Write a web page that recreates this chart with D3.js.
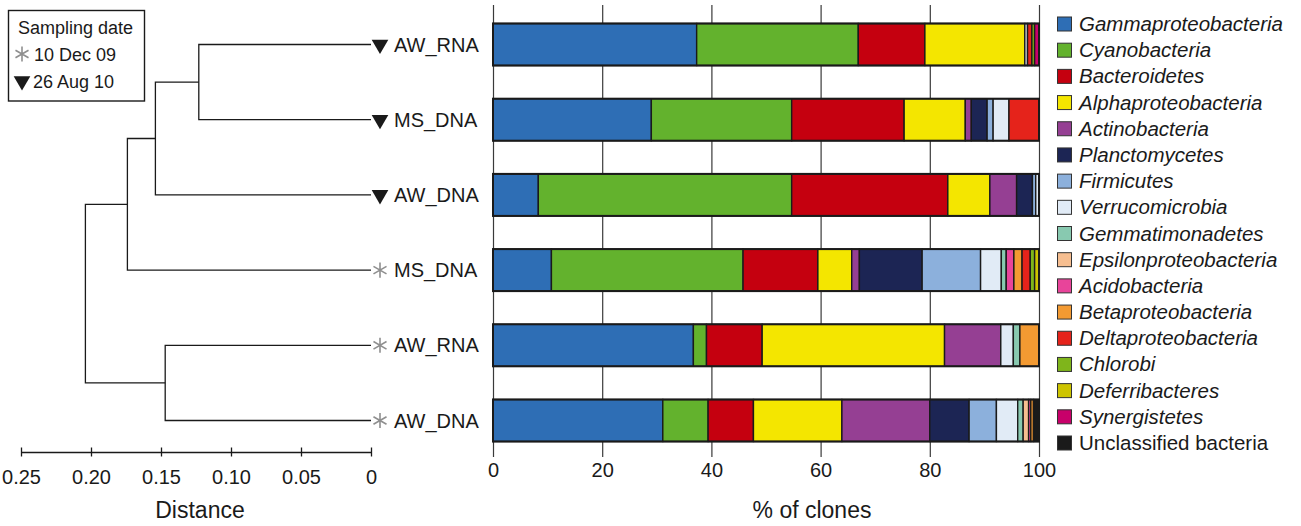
<!DOCTYPE html>
<html>
<head>
<meta charset="utf-8">
<script src="https://cdn.jsdelivr.net/npm/d3@7"></script>
<style>
  html, body { margin: 0; padding: 0; background: #fff; }
  svg { display: block; font-family: "Liberation Sans", Arial, Helvetica, sans-serif; }
</style>
</head>
<body>
<svg id="chart" width="1301" height="526"></svg>
<script>
// ---------------- DATA ----------------
const samples = ["AW_RNA", "MS_DNA", "AW_DNA", "MS_DNA", "AW_RNA", "AW_DNA"];
const sampleDate = ["aug", "aug", "aug", "dec", "dec", "dec"];
const dateLabels = ["10 Dec 09", "26 Aug 10"];

const taxa = ["Gammaproteobacteria", "Cyanobacteria", "Bacteroidetes", "Alphaproteobacteria",
  "Actinobacteria", "Planctomycetes", "Firmicutes", "Verrucomicrobia", "Gemmatimonadetes",
  "Epsilonproteobacteria", "Acidobacteria", "Betaproteobacteria", "Deltaproteobacteria",
  "Chlorobi", "Deferribacteres", "Synergistetes", "Unclassified bacteria"];
const taxaColors = ["#2e6eb5", "#63b22d", "#c5000f", "#f4e600", "#953f93", "#1c2554",
  "#8cb0dc", "#e1ebf6", "#88c9b0", "#f6be90", "#e8449a", "#f39a32", "#e5231b",
  "#7fb51b", "#cdc400", "#c8006a", "#1a1a1a"];

// % of clones per taxon, rows top to bottom
const gamma    = [37.3, 29.0,  8.3, 10.7, 36.7, 31.1];
const cyano    = [29.6, 25.7, 46.4, 35.1,  2.4,  8.3];
const bactero  = [12.2, 20.6, 28.6, 13.7, 10.2,  8.3];
const alpha    = [18.3, 11.2,  7.7,  6.2, 33.4, 16.2];
const actino   = [ 0.0,  1.1,  4.9,  1.4, 10.3, 16.1];
const plancto  = [ 0.0,  2.9,  2.9, 11.5,  0.0,  7.2];
const firmic   = [ 0.0,  1.1,  0.6, 10.7,  0.0,  5.0];
const verruco  = [ 0.5,  2.9,  0.6,  3.8,  2.3,  3.9];
const gemmati  = [ 0.0,  0.0,  0.0,  0.9,  1.2,  1.0];
const epsilon  = [ 0.0,  0.0,  0.0,  0.0,  0.0,  1.0];
const acido    = [ 0.0,  0.0,  0.0,  1.4,  0.0,  0.4];
const beta     = [ 0.0,  0.0,  0.0,  1.5,  3.5,  0.5];
const delta    = [ 0.8,  5.5,  0.0,  1.5,  0.0,  0.0];
const chlorobi = [ 0.5,  0.0,  0.0,  0.8,  0.0,  0.0];
const deferri  = [ 0.0,  0.0,  0.0,  0.8,  0.0,  0.0];
const synerg   = [ 0.8,  0.0,  0.0,  0.0,  0.0,  0.0];
const unclass  = [ 0.0,  0.0,  0.0,  0.0,  0.0,  1.0];
const seriesValues = [gamma, cyano, bactero, alpha, actino, plancto, firmic, verruco, gemmati,
  epsilon, acido, beta, delta, chlorobi, deferri, synerg, unclass];

const pctTicks = [0, 20, 40, 60, 80, 100];
const distTicks = [0.25, 0.20, 0.15, 0.10, 0.05, 0];
const distTickLabels = ["0.25", "0.20", "0.15", "0.10", "0.05", "0"];

// dendrogram merges (children: leaf index or merge id, h = distance)
const merges = [
  { id: "A", left: 0, right: 1, h: 0.123 },
  { id: "B", left: "A", right: 2, h: 0.154 },
  { id: "C", left: "B", right: 3, h: 0.174 },
  { id: "D", left: 4, right: 5, h: 0.147 },
  { id: "R", left: "C", right: "D", h: 0.204 }
];

// ---------------- CHART ----------------
const svg = d3.select("#chart");
const ink = "#1a1a1a";

const xBar = d3.scaleLinear().domain([0, 100]).range([493, 1039]);
const xDist = d3.scaleLinear().domain([0.25, 0]).range([21, 371]);
const yRow = d3.scalePoint().domain(d3.range(samples.length)).range([44.5, 420.5]);
const barH = 42;

// gridlines / bar axis
const gridTop = 5, gridBottom = 457;
const barAxis = d3.axisBottom(xBar).tickValues(pctTicks).tickFormat(d3.format("d"))
  .tickSizeInner(-(gridBottom - gridTop)).tickSizeOuter(0).tickPadding(6);
const gBarAxis = svg.append("g").attr("transform", `translate(0,${gridBottom})`).call(barAxis);
gBarAxis.select(".domain").remove();
gBarAxis.selectAll(".tick line").attr("stroke", "#3a3a3a").attr("stroke-width", 1.2);
gBarAxis.selectAll(".tick text").attr("font-size", 20).attr("fill", ink)
  .attr("font-family", '"Liberation Sans", Arial, sans-serif');

svg.append("text").attr("x", (xBar(0) + xBar(100)) / 2 + 46).attr("y", 518)
  .attr("text-anchor", "middle").attr("font-size", 23).attr("fill", ink).text("% of clones");

// stacked bars
const table = samples.map((s, i) => {
  const row = { idx: i };
  taxa.forEach((t, k) => row[t] = seriesValues[k][i]);
  return row;
});
const stacked = d3.stack().keys(taxa)(table);
const color = d3.scaleOrdinal().domain(taxa).range(taxaColors);

svg.append("g").selectAll("g").data(stacked).join("g")
  .attr("fill", d => color(d.key))
  .selectAll("rect").data(d => d.filter(p => p[1] - p[0] > 0)).join("rect")
  .attr("x", d => xBar(d[0]))
  .attr("width", d => xBar(d[1]) - xBar(d[0]))
  .attr("y", d => yRow(d.data.idx) - barH / 2)
  .attr("height", barH)
  .attr("stroke", ink).attr("stroke-width", 1.4);

// outer bar frame
svg.append("g").selectAll("rect").data(table).join("rect")
  .attr("x", xBar(0)).attr("width", xBar(100) - xBar(0))
  .attr("y", d => yRow(d.idx) - barH / 2).attr("height", barH)
  .attr("fill", "none").attr("stroke", ink).attr("stroke-width", 2);

// ---------------- DENDROGRAM ----------------
const nodes = {};
samples.forEach((s, i) => nodes[i] = { x: xDist(0), y: yRow(i) });
const gTree = svg.append("g").attr("fill", "none").attr("stroke", ink).attr("stroke-width", 1.3);
merges.forEach(m => {
  const a = nodes[m.left], b = nodes[m.right];
  const x = xDist(m.h);
  gTree.append("path").attr("d", `M${a.x},${a.y}H${x}V${b.y}H${b.x}`);
  nodes[m.id] = { x: x, y: (a.y + b.y) / 2 };
});

// leaf markers and labels
const tri = d3.symbol().type(d3.symbolTriangle).size(120);
const ast = d3.symbol().type(d3.symbolAsterisk).size(160);
samples.forEach((s, i) => {
  const y = yRow(i);
  if (sampleDate[i] === "aug") {
    svg.append("path").attr("d", tri()).attr("fill", ink)
      .attr("transform", `translate(380,${y}) rotate(180)`);
  } else {
    svg.append("path").attr("d", ast()).attr("fill", "none").attr("stroke", "#8f8f8f")
      .attr("stroke-width", 1.6).attr("transform", `translate(380,${y})`);
  }
  svg.append("text").attr("x", 394).attr("y", y + 7).attr("font-size", 20)
    .attr("fill", ink).text(s);
});

// distance axis
const distAxis = d3.axisBottom(xDist).tickValues(distTicks)
  .tickFormat((d, i) => distTickLabels[i]).tickSizeInner(4.5).tickSizeOuter(0).tickPadding(13);
const gDist = svg.append("g").attr("transform", "translate(0,452)").call(distAxis);
gDist.select(".domain").attr("stroke", ink).attr("stroke-width", 1.3);
gDist.selectAll(".tick line").attr("y1", -4.5).attr("stroke", ink).attr("stroke-width", 1.3);
gDist.selectAll(".tick text").attr("font-size", 20).attr("fill", ink)
  .attr("font-family", '"Liberation Sans", Arial, sans-serif');
svg.append("text").attr("x", 200).attr("y", 518).attr("text-anchor", "middle")
  .attr("font-size", 23).attr("fill", ink).text("Distance");

// sampling date legend
svg.append("rect").attr("x", 8.5).attr("y", 10.5).attr("width", 136).attr("height", 90.5)
  .attr("fill", "#fff").attr("stroke", ink).attr("stroke-width", 1.4);
svg.append("text").attr("x", 18).attr("y", 34).attr("font-size", 18).attr("fill", ink)
  .text("Sampling date");
svg.append("path").attr("d", ast()).attr("fill", "none").attr("stroke", "#8f8f8f")
  .attr("stroke-width", 1.6).attr("transform", "translate(22,54)");
svg.append("text").attr("x", 34).attr("y", 61).attr("font-size", 18).attr("fill", ink)
  .text(dateLabels[0]);
svg.append("path").attr("d", tri()).attr("fill", ink)
  .attr("transform", "translate(22,81) rotate(180)");
svg.append("text").attr("x", 33).attr("y", 88).attr("font-size", 18).attr("fill", ink)
  .text(dateLabels[1]);

// ---------------- TAXA LEGEND ----------------
const yLeg = d3.scalePoint().domain(taxa).range([24, 443]);
const gLeg = svg.append("g");
const items = gLeg.selectAll("g").data(taxa).join("g")
  .attr("transform", d => `translate(1057,${yLeg(d)})`);
items.append("rect").attr("x", 0.5).attr("y", -7).attr("width", 14).attr("height", 14)
  .attr("fill", d => color(d)).attr("stroke", "#333").attr("stroke-width", 1);
items.append("text").attr("x", 22).attr("y", 7).attr("font-size", 20.5).attr("fill", ink)
  .attr("font-style", d => d === "Unclassified bacteria" ? "normal" : "italic")
  .text(d => d);
</script>
</body>
</html>
